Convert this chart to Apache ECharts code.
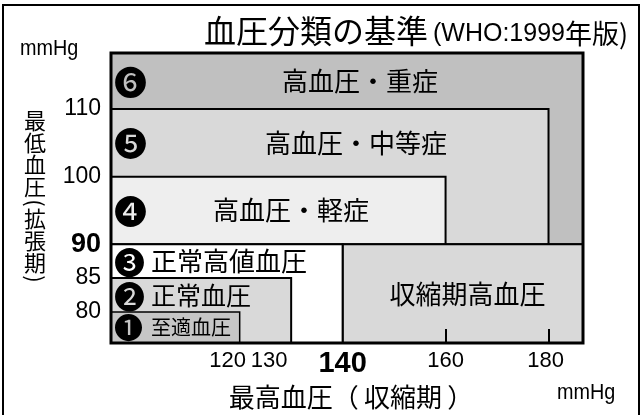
<!DOCTYPE html>
<html><head><meta charset="utf-8">
<script src="https://cdn.jsdelivr.net/npm/echarts@6/dist/echarts.min.js"></script>
<style>html,body{margin:0;padding:0;background:#fff}#c{width:642px;height:415px}</style>
</head><body><div id="c"></div>
<script>
// ---- data ----
const categories = ['高血圧・重症', '高血圧・中等症', '高血圧・軽症', '収縮期高血圧', '正常高値血圧', '正常血圧', '至適血圧'];
const badges     = ['❻', '❺', '❹', '', '❸', '❷', '❶'];
const sysFrom    = [null, null, null, 140, null, null, null];   // systolic lower bound (null = open)
const sysTo      = [null, 180, 160, null, 140, 130, 120];      // systolic upper bound
const diaFrom    = [90, 90, 90, null, null, null, null];        // diastolic lower bound
const diaTo      = [null, 110, 100, 90, 90, 85, 80];            // diastolic upper bound
const bandFloor  = [110, 100, 90, null, 85, 80, null];          // lower edge of the strip holding each label
const sysTicks   = [130, 140, 160, 180];
const sysTicksCrowded = [120];
const diaTicks   = [80, 85, 90, 100, 110];
const boldTicks  = [90, 140];
const sysInnerTicks = [160, 180];
const yNameChars = ['最', '低', '血', '圧', '(', '拡', '張', '期', ')'];

// ---- layout / style ----
const SYS_MIN = 95, SYS_MAX = 186.7, DIA_MIN = 75.4, DIA_MAX = 118.3;
const fills = ['#c0c0c0', '#d9d9d9', '#eeeeee', '#d9d9d9', '#ffffff', '#d9d9d9', '#c6c6c6'];
const labelOffset = [249, 245, 180, 125, null, null, null]; // centred labels: px from region left
const labelSize = [26, 26, 26, 26, 26, 25, 20];
const badgeSize = [33, 33, 33, 33, 31, 31, 29];
const CJK = '"Noto Sans CJK JP"';
const LAT = '"Liberation Sans", Arial, sans-serif';

const regionData = categories.map((c, i) => [
  sysFrom[i] == null ? SYS_MIN : sysFrom[i],
  sysTo[i] == null ? SYS_MAX : sysTo[i],
  diaFrom[i] == null ? DIA_MIN : diaFrom[i],
  diaTo[i] == null ? DIA_MAX : diaTo[i],
  bandFloor[i] == null ? (diaFrom[i] == null ? DIA_MIN : diaFrom[i]) : bandFloor[i]
]);

function renderRegion(params, api) {
  const i = params.dataIndex;
  const tl = api.coord([api.value(0), api.value(3)]);
  const br = api.coord([api.value(1), api.value(2)]);
  const fl = api.coord([api.value(0), api.value(4)]);
  const x = tl[0], y = tl[1], w = br[0] - tl[0], h = br[1] - tl[1];
  const cy = (y + fl[1]) / 2;
  const kids = [{
    type: 'rect', shape: { x: x, y: y, width: w, height: h },
    style: { fill: fills[i], stroke: '#000', lineWidth: i === 6 ? 1.5 : 2 }
  }];
  if (badges[i]) {
    kids.push({ type: 'text', style: { text: badges[i], x: x + 3, y: cy + 1, fill: '#000',
      font: badgeSize[i] + 'px ' + CJK, align: 'left', verticalAlign: 'middle' } });
  }
  if (labelOffset[i] != null) {
    kids.push({ type: 'text', style: { text: categories[i], x: x + labelOffset[i], y: cy, fill: '#000',
      font: labelSize[i] + 'px ' + CJK, align: 'center', verticalAlign: 'middle' } });
  } else {
    kids.push({ type: 'text', style: { text: categories[i], x: x + 40, y: cy, fill: '#000',
      font: labelSize[i] + 'px ' + CJK, align: 'left', verticalAlign: 'middle' } });
  }
  return { type: 'group', children: kids };
}

function renderFrame(params, api) {
  const tl = api.coord([api.value(0), api.value(3)]);
  const br = api.coord([api.value(1), api.value(2)]);
  return { type: 'rect', shape: { x: tl[0], y: tl[1], width: br[0] - tl[0], height: br[1] - tl[1] },
    style: { fill: 'none', stroke: '#000', lineWidth: 3 } };
}

// vertical axis title, one glyph per line; brackets turned sideways
function verticalName(cx, top) {
  const kids = [];
  let y = top;
  yNameChars.forEach((ch, k) => {
    const paren = ch === '(' || ch === ')';
    if (k > 0) y += paren || yNameChars[k - 1] === '(' ? 16 : 22;
    kids.push({ type: 'text', x: cx, y: y, rotation: paren ? -Math.PI / 2 : 0,
      style: { text: ch, font: '22px ' + CJK, fill: '#000', align: 'center', verticalAlign: 'middle' } });
  });
  return { type: 'group', children: kids };
}

const xShift = { 120: 'p24', 130: 'p44', 140: 'b', 160: 'n', 180: 'p6' };
const latStyle = { fontSize: 22, fontFamily: 'Liberation Sans', color: '#000' };
const xRich = {
  n: latStyle,
  p24: Object.assign({}, latStyle, { padding: [0, 24, 0, 0] }),
  p44: Object.assign({}, latStyle, { padding: [0, 44, 0, 0] }),
  p6: Object.assign({}, latStyle, { padding: [0, 6, 0, 0] }),
  b: { fontSize: 29, fontWeight: 'bold', fontFamily: 'Liberation Sans', color: '#000' }
};

const option = {
  animation: false,
  backgroundColor: '#fff',
  title: {
    text: '{a|血圧分類の基準}{b|(WHO:1999}{c|年版)}',
    left: 199, top: 9,
    textStyle: { fontWeight: 'normal', rich: {
      a: { fontSize: 32, fontWeight: 'normal', fontFamily: 'Noto Sans CJK JP', color: '#000' },
      b: { fontSize: 25, fontWeight: 'normal', fontFamily: 'Liberation Sans', color: '#000', padding: [8, 0, 0, 5] },
      c: { fontSize: 27, fontWeight: 'normal', fontFamily: 'Noto Sans CJK JP', color: '#000', padding: [6, 0, 0, 0] }
    } }
  },
  grid: { left: 111, right: 59, top: 53, bottom: 72 },
  xAxis: [{
    type: 'value', min: SYS_MIN, max: SYS_MAX, z: 10,
    splitLine: { show: false }, axisLine: { show: false },
    axisTick: { show: true, inside: true, length: 14, customValues: sysInnerTicks, lineStyle: { color: '#000', width: 2 } },
    axisLabel: {
      customValues: sysTicks, margin: 7, hideOverlap: false,
      formatter: v => '{' + (xShift[v] || 'n') + '|' + v + '}',
      rich: xRich
    },
    name: '最高血圧（\u2009収縮期\u2009）', nameLocation: 'middle', nameGap: 41,
    nameTextStyle: { fontSize: 26, fontFamily: 'Noto Sans CJK JP', color: '#000', padding: [0, 0, 0, 8] }
  }, {
    type: 'value', min: SYS_MIN, max: SYS_MAX, position: 'bottom', offset: 0, z: 10,
    splitLine: { show: false }, axisLine: { show: false }, axisTick: { show: false },
    axisLabel: {
      customValues: sysTicksCrowded, margin: 7, hideOverlap: false,
      formatter: v => '{' + (xShift[v] || 'n') + '|' + v + '}',
      rich: xRich
    }
  }],
  yAxis: {
    type: 'value', min: DIA_MIN, max: DIA_MAX, z: 10,
    splitLine: { show: false }, axisLine: { show: false }, axisTick: { show: false },
    axisLabel: {
      customValues: diaTicks, margin: 10, hideOverlap: false,
      formatter: v => boldTicks.indexOf(v) >= 0 ? '{b|' + v + '}' : '{n|' + v + '}',
      rich: {
        n: { fontSize: 23, fontFamily: 'Liberation Sans', color: '#000' },
        b: { fontSize: 27, fontWeight: 'bold', fontFamily: 'Liberation Sans', color: '#000' }
      }
    }
  },
  graphic: [
    { type: 'rect', shape: { x: 3, y: 5, width: 636, height: 420 }, style: { fill: 'none', stroke: '#000', lineWidth: 2 }, z: 100 },
    { type: 'text', x: 20, y: 38, scaleX: 0.9, style: { text: 'mmHg', font: '22px ' + LAT, fill: '#000' } },
    { type: 'text', x: 557, y: 382, scaleX: 0.9, style: { text: 'mmHg', font: '22px ' + LAT, fill: '#000' } },
    verticalName(35, 121)
  ],
  series: [
    { type: 'custom', renderItem: renderRegion, data: regionData, z: 2, silent: true, xAxisIndex: 0 },
    { type: 'custom', renderItem: renderFrame, data: [[SYS_MIN, SYS_MAX, DIA_MIN, DIA_MAX]], z: 5, silent: true, xAxisIndex: 0 }
  ]
};

const chart = echarts.init(document.getElementById('c'), null, { renderer: 'canvas' });
chart.setOption(option);
</script>
</body></html>
